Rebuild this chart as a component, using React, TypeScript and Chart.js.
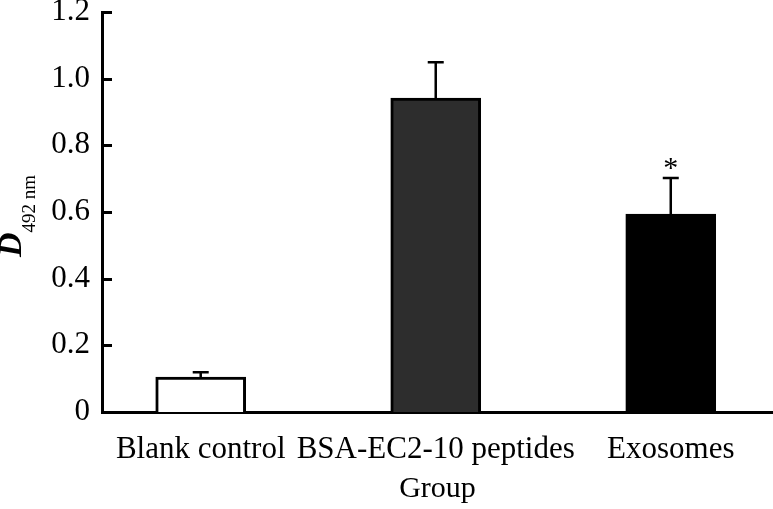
import React, { useEffect, useRef } from "react";
import { Chart, registerables } from "chart.js";

Chart.register(...registerables);

const categories = ["Blank control", "BSA-EC2-10 peptides", "Exosomes"];
const values = [0.105, 0.942, 0.594];
const errors = [0.014, 0.107, 0.108];
const marks = ["", "", "*"];
const barColors = ["#ffffff", "#2d2d2d", "#000000"];
const yTicks = [0, 0.2, 0.4, 0.6, 0.8, 1.0, 1.2];
const yMin = 0;
const yMax = 1.2;
const xMin = -0.42;
const xMax = 2.435;

const FONT = "'Liberation Serif', 'Times New Roman', serif";

export default function App() {
  const ref = useRef<HTMLCanvasElement | null>(null);

  useEffect(() => {
    document.body.style.margin = "0";
    const canvas = ref.current;
    if (!canvas) return;

    const overlay = {
      id: "overlay",
      afterDatasetsDraw(chart: any) {
        const ctx = chart.ctx;
        const y = chart.scales.y;
        const area = chart.chartArea;
        const meta = chart.getDatasetMeta(0);
        ctx.save();
        ctx.strokeStyle = "#000";
        ctx.fillStyle = "#000";
        // inward y ticks
        ctx.lineWidth = 3;
        yTicks.forEach((t) => {
          const py = Math.round(y.getPixelForValue(t)) + 0.5;
          ctx.beginPath();
          ctx.moveTo(area.left, py);
          ctx.lineTo(area.left + 10, py);
          ctx.stroke();
        });
        // error bars
        ctx.lineWidth = 2.5;
        meta.data.forEach((bar: any, i: number) => {
          const x = bar.x;
          const top = y.getPixelForValue(values[i]);
          const end = y.getPixelForValue(values[i] + errors[i]);
          ctx.beginPath();
          ctx.moveTo(x, top);
          ctx.lineTo(x, end);
          ctx.moveTo(x - 8, end);
          ctx.lineTo(x + 8, end);
          ctx.stroke();
          if (marks[i]) {
            ctx.font = `30px ${FONT}`;
            ctx.textAlign = "center";
            ctx.textBaseline = "alphabetic";
            ctx.fillText(marks[i], x, end - 1);
          }
        });
        // y axis title: D with subscript 492 nm
        ctx.translate(21, 216);
        ctx.rotate(-Math.PI / 2);
        ctx.font = `italic bold 34px ${FONT}`;
        const wD = ctx.measureText("D").width;
        ctx.font = `19px ${FONT}`;
        const wS = ctx.measureText("492 nm").width;
        const total = wD + wS;
        ctx.textAlign = "left";
        ctx.textBaseline = "alphabetic";
        ctx.font = `italic bold 34px ${FONT}`;
        ctx.fillText("D", -total / 2, 0);
        ctx.font = `19px ${FONT}`;
        ctx.fillText("492 nm", -total / 2 + wD, 14);
        ctx.restore();
      },
    };

    const chart = new Chart(canvas, {
      type: "bar",
      data: {
        datasets: [
          {
            data: values.map((v, i) => ({ x: i, y: v })),
            backgroundColor: barColors,
            borderColor: "#000",
            borderWidth: 3,
            barThickness: 90,
          },
        ],
      },
      options: {
        animation: false,
        responsive: false,
        layout: { padding: { top: 12, left: 0, right: 0, bottom: 0 } },
        plugins: { legend: { display: false }, tooltip: { enabled: false } },
        scales: {
          x: {
            type: "linear",
            min: xMin,
            max: xMax,
            offset: false,
            grid: { display: false, offset: false },
            border: { display: true, color: "#000", width: 3 },
            afterBuildTicks: (scale: any) => {
              scale.ticks = categories.map((_, i) => ({ value: i }));
            },
            afterFit: (scale: any) => {
              scale.height = 97;
              scale.paddingLeft = 0;
              scale.paddingRight = 0;
            },
            ticks: {
              autoSkip: false,
              maxRotation: 0,
              padding: 11,
              color: "#000",
              font: { family: FONT, size: 31 },
              callback: (v: any) => categories[v] ?? "",
            },
            title: {
              display: true,
              text: "Group",
              color: "#000",
              font: { family: FONT, size: 30 },
              padding: { top: 0, bottom: 2 },
            },
          },
          y: {
            min: yMin,
            max: yMax,
            grid: { display: false },
            border: { display: true, color: "#000", width: 3 },
            afterBuildTicks: (scale: any) => {
              scale.ticks = yTicks.map((v) => ({ value: v }));
            },
            afterFit: (scale: any) => {
              scale.width = 102;
              scale.paddingTop = 0;
              scale.paddingBottom = 0;
            },
            ticks: {
              padding: 4,
              color: "#000",
              font: { family: FONT, size: 31 },
              callback: (v: any) => (v === 0 ? "0" : Number(v).toFixed(1)),
            },
          },
        },
      },
      plugins: [overlay],
    } as any);

    return () => chart.destroy();
  }, []);

  return (
    <div style={{ position: "fixed", left: 0, top: 0, width: 773, height: 509, background: "#fff" }}>
      <canvas ref={ref} width={773} height={509} />
    </div>
  );
}
